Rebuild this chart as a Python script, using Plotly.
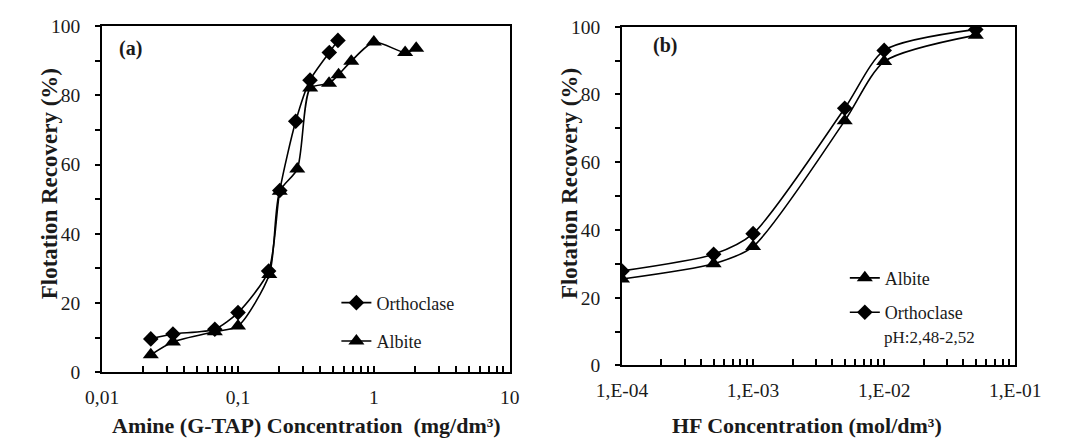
import plotly.graph_objects as go

W, H = 1086, 446

# ---------- data (a) ----------
amine_ortho_x = [0.0228, 0.0332, 0.0675, 0.100, 0.168, 0.203, 0.266, 0.339, 0.470, 0.544]
amine_ortho_y = [9.6, 11.0, 12.4, 17.2, 29.2, 52.5, 72.5, 84.4, 92.4, 95.9]
amine_albite_x = [0.0228, 0.0332, 0.0675, 0.100, 0.170, 0.203, 0.273, 0.340, 0.468, 0.550, 0.682, 1.00, 1.70, 2.05]
amine_albite_y = [5.0, 8.7, 11.7, 13.3, 28.2, 52.3, 58.7, 82.1, 83.5, 86.0, 89.9, 95.4, 92.4, 93.6]

# ---------- data (b) ----------
hf_x = [1e-4, 5e-4, 1e-3, 5e-3, 1e-2, 5e-2]
hf_albite_y = [25.5, 30.0, 35.1, 72.2, 89.7, 97.5]
hf_ortho_y = [27.9, 32.8, 38.9, 75.9, 93.0, 99.2]

ytick_vals = list(range(0, 101, 10))
ytick_text = [str(v) if v % 20 == 0 else "" for v in ytick_vals]

ax_decades = [0.01, 0.1, 1, 10]
ax_labels = ["0,01", "0,1", "1", "10"]
bx_decades = [1e-4, 1e-3, 1e-2, 1e-1]
bx_labels = ["1,E-04", "1,E-03", "1,E-02", "1,E-01"]


def log_ticks(decades, labels):
    vals, txt = [], []
    for d, lab in zip(decades, labels):
        vals.append(d)
        txt.append(lab)
    for d in decades[:-1]:
        for m in range(2, 10):
            vals.append(d * m)
            txt.append("")
    return vals, txt


FONT = "Liberation Serif"
TXT = "#1a1a1a"
fig = go.Figure()

mk_d = dict(symbol="diamond", size=12, color="black")
mk_t = dict(symbol="triangle-up", size=14, color="black")
ln = dict(color="black", width=1.6, shape="spline", smoothing=0.7)

fig.add_trace(go.Scatter(x=amine_ortho_x, y=amine_ortho_y, mode="lines+markers", name="Orthoclase",
                         marker=mk_d, line=ln, xaxis="x", yaxis="y", legend="legend",
                         legendgroup="a1", legendrank=1))
fig.add_trace(go.Scatter(x=amine_albite_x, y=amine_albite_y, mode="lines+markers", name="Albite",
                         marker=mk_t, line=ln, xaxis="x", yaxis="y", legend="legend",
                         legendgroup="a2", legendrank=2))
fig.add_trace(go.Scatter(x=hf_x, y=hf_albite_y, mode="lines+markers", name="Albite",
                         marker=mk_t, line=ln, xaxis="x2", yaxis="y2", legend="legend2",
                         legendgroup="b1", legendrank=1))
fig.add_trace(go.Scatter(x=hf_x, y=hf_ortho_y, mode="lines+markers", name="Orthoclase",
                         marker=mk_d, line=ln, xaxis="x2", yaxis="y2", legend="legend2",
                         legendgroup="b2", legendrank=2))

axv, axt = log_ticks(ax_decades, ax_labels)
bxv, bxt = log_ticks(bx_decades, bx_labels)

tickfont = dict(family=FONT, size=19.5, color=TXT)
common_x = dict(type="log", showgrid=False, zeroline=False, showline=True, linecolor="black",
                linewidth=2, mirror=True, ticks="inside", ticklen=6, tickwidth=1.5,
                tickcolor="black", tickfont=tickfont, tickmode="array", ticklabelstandoff=6)
common_y = dict(range=[0, 100], showgrid=False, zeroline=False, showline=True, linecolor="black",
                linewidth=2, mirror=True, ticks="outside", ticklen=5, tickwidth=1.5,
                tickcolor="black", tickfont=tickfont, tickmode="array",
                tickvals=ytick_vals, ticktext=ytick_text, ticklabelstandoff=11)

legfont = dict(family=FONT, size=18, color=TXT)
fig.update_layout(
    width=W, height=H, margin=dict(l=0, r=0, t=0, b=0),
    paper_bgcolor="white", plot_bgcolor="white",
    xaxis=dict(common_x, domain=[80 / W, 508 / W], range=[-2, 1], tickvals=axv, ticktext=axt, anchor="y"),
    yaxis=dict(common_y, domain=[(H - 380) / H, (H - 17) / H], anchor="x"),
    xaxis2=dict(common_x, domain=[626 / W, 1039 / W], range=[-4, -1], tickvals=bxv, ticktext=bxt, anchor="y2"),
    yaxis2=dict(common_y, domain=[(H - 373) / H, (H - 17.5) / H], anchor="x2"),
    legend=dict(x=326 / W, y=1 - 288 / H, xanchor="left", yanchor="top", bgcolor="rgba(0,0,0,0)",
                font=legfont, tracegroupgap=12, traceorder="grouped"),
    legend2=dict(x=860 / W, y=1 - 262 / H, xanchor="left", yanchor="top", bgcolor="rgba(0,0,0,0)",
                 font=legfont, tracegroupgap=8, traceorder="grouped"),
    showlegend=True,
)

xt = dict(family=FONT, size=22, color=TXT)
yt = dict(family=FONT, size=23, color=TXT)
ann = [
    dict(text="<b>Amine (G-TAP) Concentration  (mg/dm³)</b>", x=295 / W, y=1 - 436 / H, font=xt),
    dict(text="<b>HF Concentration (mol/dm³)</b>", x=820 / W, y=1 - 436 / H, font=xt),
    dict(text="<b>Flotation Recovery (%)</b>", x=25 / W, y=1 - 182 / H, font=yt, textangle=-90),
    dict(text="<b>Flotation Recovery (%)</b>", x=571 / W, y=1 - 182 / H, font=yt, textangle=-90),
    dict(text="<b>(a)</b>", x=110 / W, y=1 - 40 / H, font=dict(family=FONT, size=20, color=TXT)),
    dict(text="<b>(b)</b>", x=671 / W, y=1 - 37 / H, font=dict(family=FONT, size=20, color=TXT)),
    dict(text="pH:2,48-2,52", x=899 / W, y=1 - 344 / H, xanchor="left",
         font=dict(family=FONT, size=17, color=TXT)),
]
for a in ann:
    a.setdefault("xanchor", "center")
    a.update(xref="paper", yref="paper", yanchor="middle", showarrow=False)
fig.update_layout(annotations=ann)

fig.write_html("out.html")
